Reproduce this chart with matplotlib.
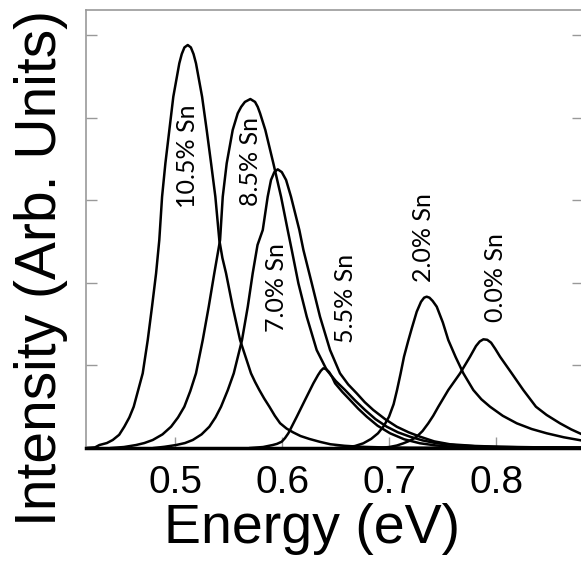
import matplotlib
matplotlib.use("Agg")
import matplotlib.pyplot as plt

# photoluminescence curves (energy in eV, intensity in arb. units)
e_105 = [0.4165, 0.4250, 0.4290, 0.4360, 0.4415, 0.4475, 0.4523, 0.4570, 0.4611, 0.4695,
         0.4742, 0.4782, 0.4820, 0.4850, 0.4876, 0.4907, 0.4944, 0.4981, 0.5037, 0.5060,
         0.5085, 0.5116, 0.5145, 0.5170, 0.5193, 0.5250, 0.5293, 0.5334, 0.5374, 0.5411,
         0.5440, 0.5474, 0.5536, 0.5605, 0.5707, 0.5745, 0.5785, 0.5830, 0.5879, 0.5930,
         0.5979, 0.6040, 0.6100, 0.6170, 0.6252, 0.6350, 0.6450, 0.6580, 0.6726, 0.6950,
         0.7200, 0.8810]
i_105 = [0.0, 0.008, 0.036, 0.060, 0.097, 0.160, 0.258, 0.370, 0.500, 0.904,
         1.307, 1.711, 2.115, 2.518, 3.042, 3.447, 3.850, 4.253, 4.657, 4.770,
         4.850, 4.879, 4.850, 4.770, 4.657, 4.253, 3.850, 3.447, 3.042, 2.518,
         2.300, 2.115, 1.711, 1.307, 0.904, 0.800, 0.702, 0.600, 0.500, 0.390,
         0.300, 0.235, 0.190, 0.145, 0.110, 0.075, 0.045, 0.027, 0.015, 0.007,
         0.003, 0.0]

e_85 = [0.4400, 0.4520, 0.4633, 0.4710, 0.4789, 0.4880, 0.4960, 0.5025, 0.5084, 0.5140,
        0.5193, 0.5256, 0.5312, 0.5364, 0.5418, 0.5443, 0.5480, 0.5536, 0.5583, 0.5615,
        0.5650, 0.5701, 0.5745, 0.5770, 0.5792, 0.5841, 0.5916, 0.5988, 0.6050, 0.6088,
        0.6150, 0.6228, 0.6321, 0.6415, 0.6500, 0.6586, 0.6680, 0.6773, 0.6870, 0.6976,
        0.7080, 0.7193, 0.7310, 0.7443, 0.7640, 0.7848, 0.8200, 0.8810]
i_85 = [0.0, 0.012, 0.036, 0.060, 0.097, 0.165, 0.258, 0.370, 0.500, 0.690,
        0.904, 1.307, 1.711, 2.115, 2.518, 3.042, 3.447, 3.850, 4.052, 4.130,
        4.190, 4.225, 4.190, 4.130, 4.052, 3.850, 3.447, 3.042, 2.639, 2.397,
        1.994, 1.590, 1.186, 0.944, 0.810, 0.702, 0.575, 0.460, 0.350, 0.258,
        0.190, 0.137, 0.092, 0.057, 0.031, 0.018, 0.009, 0.004]

e_70 = [0.4800, 0.4900, 0.5007, 0.5090, 0.5163, 0.5245, 0.5318, 0.5375, 0.5427, 0.5490,
        0.5546, 0.5623, 0.5677, 0.5723, 0.5768, 0.5817, 0.5863, 0.5894, 0.5925, 0.5957,
        0.5995, 0.6035, 0.6081, 0.6159, 0.6197, 0.6275, 0.6352, 0.6446, 0.6539, 0.6615,
        0.6695, 0.6770, 0.6850, 0.6960, 0.7069, 0.7180, 0.7287, 0.7420, 0.7567, 0.7800,
        0.8035, 0.8400, 0.8810]
i_70 = [0.0, 0.015, 0.036, 0.060, 0.097, 0.165, 0.258, 0.370, 0.500, 0.700,
        0.904, 1.307, 1.711, 2.115, 2.458, 2.639, 3.042, 3.245, 3.340, 3.374,
        3.340, 3.245, 3.042, 2.639, 2.397, 1.994, 1.590, 1.186, 0.904, 0.770,
        0.662, 0.555, 0.460, 0.350, 0.258, 0.190, 0.137, 0.080, 0.045, 0.025,
        0.015, 0.008, 0.004]

e_55 = [0.5700, 0.5820, 0.5910, 0.5950, 0.5994, 0.6025, 0.6056, 0.6135, 0.6212, 0.6290,
        0.6334, 0.6360, 0.6383, 0.6410, 0.6437, 0.6465, 0.6493, 0.6560, 0.6633, 0.6710,
        0.6789, 0.6890, 0.7007, 0.7140, 0.7287, 0.7440, 0.7600, 0.8000, 0.8810]
i_55 = [0.0, 0.012, 0.036, 0.050, 0.076, 0.120, 0.178, 0.379, 0.581, 0.783,
        0.884, 0.935, 0.965, 0.955, 0.920, 0.860, 0.783, 0.680, 0.581, 0.475,
        0.379, 0.270, 0.178, 0.105, 0.057, 0.030, 0.015, 0.006, 0.003]

e_20 = [0.6500, 0.6600, 0.6679, 0.6757, 0.6830, 0.6894, 0.6950, 0.6997, 0.7040, 0.7072,
        0.7105, 0.7137, 0.7175, 0.7210, 0.7256, 0.7296, 0.7325, 0.7349, 0.7375, 0.7405,
        0.7443, 0.7500, 0.7551, 0.7620, 0.7692, 0.7785, 0.7860, 0.7941, 0.8060, 0.8191,
        0.8330, 0.8471, 0.8630, 0.8810]
i_20 = [0.0, 0.010, 0.024, 0.057, 0.110, 0.178, 0.270, 0.379, 0.530, 0.702,
        0.900, 1.105, 1.290, 1.450, 1.650, 1.770, 1.820, 1.832, 1.820, 1.780,
        1.711, 1.520, 1.307, 1.100, 0.904, 0.702, 0.590, 0.500, 0.390, 0.299,
        0.230, 0.178, 0.130, 0.088]

e_00 = [0.6900, 0.7000, 0.7070, 0.7132, 0.7195, 0.7256, 0.7310, 0.7364, 0.7410, 0.7458,
        0.7551, 0.7661, 0.7754, 0.7810, 0.7845, 0.7879, 0.7915, 0.7951, 0.7990, 0.8035,
        0.8144, 0.8252, 0.8300, 0.8370, 0.8470, 0.8595, 0.8700, 0.8810]
i_00 = [0.0, 0.012, 0.030, 0.057, 0.090, 0.137, 0.205, 0.299, 0.390, 0.500,
        0.702, 0.904, 1.105, 1.235, 1.290, 1.316, 1.310, 1.275, 1.200, 1.105,
        0.904, 0.702, 0.620, 0.500, 0.400, 0.299, 0.225, 0.160]

labels = ["10.5% Sn", "8.5% Sn", "7.0% Sn", "5.5% Sn", "2.0% Sn", "0.0% Sn"]
label_x = [0.5116, 0.5698, 0.5941, 0.6593, 0.7318, 0.7988]
label_y = [3.537, 3.466, 1.943, 1.812, 2.548, 2.058]

x_ticks = [0.5, 0.6, 0.7, 0.8]
y_ticks = [1, 2, 3, 4, 5]

fig = plt.figure(figsize=(5.81, 5.69), dpi=100)
ax = fig.add_axes([86 / 581, 121 / 569, 497 / 581, 438 / 569])

for e, i in [(e_105, i_105), (e_85, i_85), (e_70, i_70),
             (e_55, i_55), (e_20, i_20), (e_00, i_00)]:
    ax.plot(e, i, color="black", lw=1.8, solid_joinstyle="round")

for txt, x, y in zip(labels, label_x, label_y):
    ax.text(x, y, txt, rotation=90, ha="center", va="center",
            fontsize=18, family="Lato")

ax.set_xlim(0.4165, 0.881)
ax.set_ylim(0, 5.303)
ax.set_xticks(x_ticks)
ax.set_xticklabels(["0.5", "0.6", "0.7", "0.8"], family="Liberation Sans", fontsize=28)
ax.set_yticks(y_ticks)
ax.set_yticklabels([])
ax.tick_params(axis="both", direction="in", length=8, width=1, color="#999999")
ax.tick_params(axis="x", pad=12)
ax.tick_params(axis="y", right=True)

for s in ["left", "top", "right"]:
    ax.spines[s].set_color("#999999")
    ax.spines[s].set_linewidth(1.2)
ax.spines["bottom"].set_color("black")
ax.spines["bottom"].set_linewidth(2.5)

ax.set_xlabel("Energy (eV)", family="Liberation Sans", fontsize=40, labelpad=2)
ax.xaxis.set_label_coords(0.455, -0.125)
ax.set_ylabel("Intensity (Arb. Units)", family="Liberation Sans", fontsize=41)
ax.yaxis.set_label_coords(-0.036, 0.41)

fig.savefig("out.png", dpi=100)
